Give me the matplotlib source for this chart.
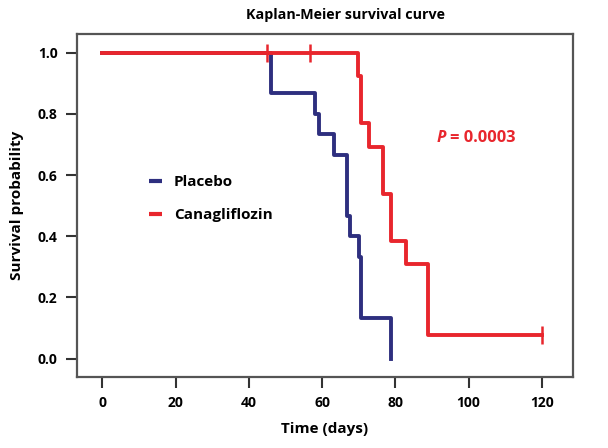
import numpy as np
import matplotlib
matplotlib.use("Agg")
import matplotlib.pyplot as plt

plt.rcParams['font.family'] = ['Open Sans', 'DejaVu Sans']
plt.rcParams['font.weight'] = 'bold'

# Kaplan-Meier steps
placebo_t = [0, 46, 58, 59.2, 63.2, 66.8, 67.6, 70, 70.7, 78.9]
placebo_s = [1.0, 0.867, 0.8, 0.733, 0.667, 0.467, 0.4, 0.333, 0.133, 0.0]

cana_t = [0, 69.8, 70.7, 72.9, 76.6, 78.9, 83, 88.8, 120]
cana_s = [1.0, 0.923, 0.769, 0.692, 0.538, 0.385, 0.308, 0.077, 0.077]
cana_cens_t = [44.9, 56.7, 120]
cana_cens_s = [1.0, 1.0, 0.077]

xticks = [0, 20, 40, 60, 80, 100, 120]
yticks = [0.0, 0.2, 0.4, 0.6, 0.8, 1.0]

blue = '#2e2f7f'
red = '#e8262d'

fig = plt.figure(figsize=(6.08, 4.48), dpi=100)
ax = fig.add_axes([0.1266, 0.1585, 0.8158, 0.7655])

ax.step(placebo_t, placebo_s, where='post', color=blue, lw=2.8, label='Placebo', zorder=2)
ax.step(cana_t, cana_s, where='post', color=red, lw=2.8, label='Canagliflozin', zorder=3)
ax.plot(cana_cens_t, cana_cens_s, ls='none', marker='|', ms=13, mew=1.8, color=red, zorder=3)

ax.set_xlim(-6.9, 128.5)
ax.set_ylim(-0.06, 1.061)
ax.set_xticks(xticks)
ax.set_yticks(yticks)
ax.set_xticklabels([str(v) for v in xticks])
ax.set_yticklabels(['%.1f' % v for v in yticks])
ax.tick_params(direction='out', length=8, width=1.5, color='#333333', labelsize=10, pad=6)

for s in ax.spines.values():
    s.set_color('#555555')
    s.set_linewidth(1.6)

fig.text(0.569, 0.966, 'Kaplan-Meier survival curve', fontsize=10.3, fontweight='bold',
         ha='center', va='center')
ax.set_xlabel('Time (days)', fontsize=11, fontweight='bold', labelpad=8)
ax.set_ylabel('Survival probability', fontsize=11, fontweight='bold', labelpad=10)

# p-value annotation
ax.text(0.726, 0.697, 'P', transform=ax.transAxes, color=red,
        fontsize=11.8, fontweight='bold', style='italic', ha='left', va='center')
ax.text(0.752, 0.697, '= 0.0003', transform=ax.transAxes, color=red,
        fontsize=11.8, fontweight='bold', ha='left', va='center')

leg = ax.legend(loc='upper left', bbox_to_anchor=(0.117, 0.629), frameon=False,
                handlelength=0.85, handletextpad=0.8, labelspacing=1.25,
                prop={'size': 11, 'weight': 'bold'})
for h in leg.get_lines():
    h.set_linewidth(3)
    h.set_solid_capstyle('butt')

fig.savefig('out.png', dpi=100)
